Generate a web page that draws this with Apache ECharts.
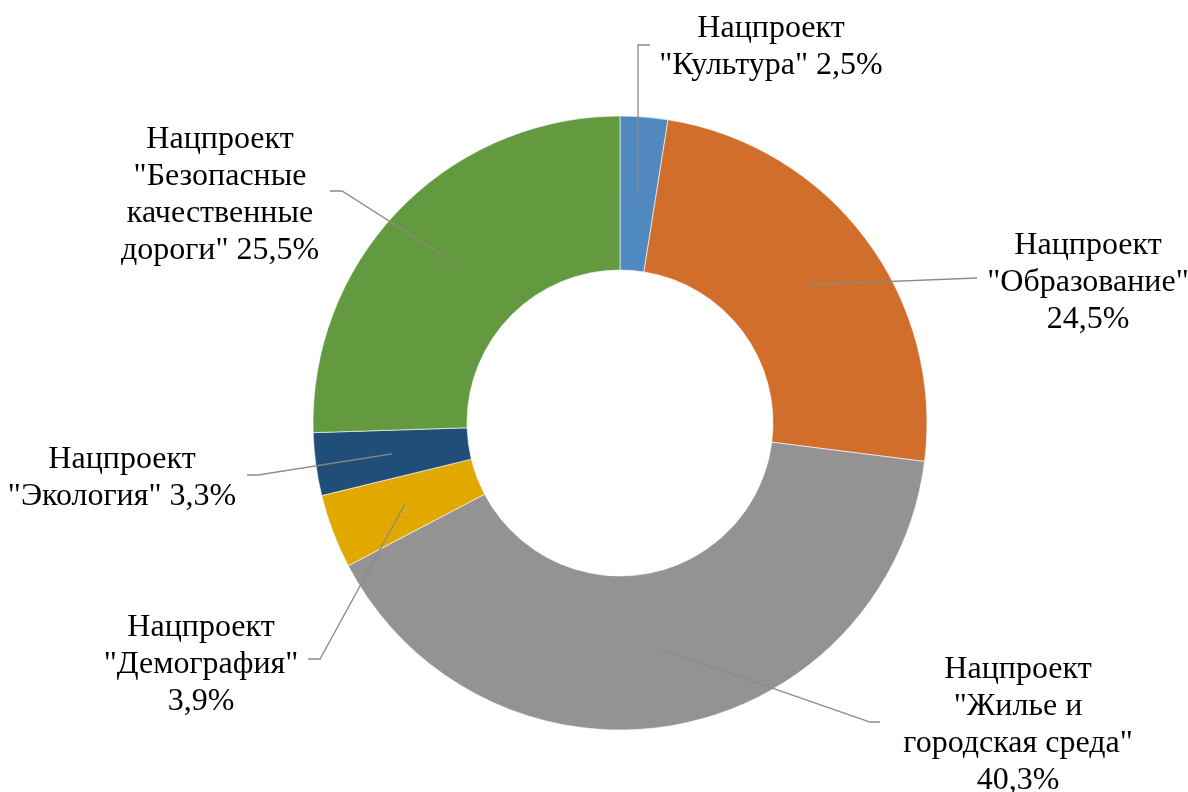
<!DOCTYPE html>
<html>
<head>
<meta charset="utf-8">
<script src="https://cdn.jsdelivr.net/npm/echarts@6/dist/echarts.min.js"></script>
<style>
  html, body { margin: 0; padding: 0; background: #fff; }
  #chart { width: 1188px; height: 792px; }
</style>
</head>
<body>
<div id="chart"></div>
<script>
// national projects, clockwise from 12 o'clock
var names = [
  'Нацпроект\n"Культура"',
  'Нацпроект\n"Образование"',
  'Нацпроект\n"Жилье и\nгородская среда"',
  'Нацпроект\n"Демография"',
  'Нацпроект\n"Экология"',
  'Нацпроект\n"Безопасные\nкачественные\nдороги"'
]
var shares = [2.5, 24.5, 40.3, 3.9, 3.3, 25.5]
// whether the percentage goes on its own line
var valueOnNewLine = [false, true, true, true, false, false]

var colors = ['#4f89bf', '#d26e2c', '#939393', '#e1a900', '#214e78', '#639a3f']

// label block centres and leader-line elbows (layout only)
var labelPos = [[771, 47], [1088, 283], [1018, 725], [201, 665], [122, 478], [220, 195]]
var elbows = [
  [[638, 45], [650, 45]],
  [[977, 278]],
  [[870, 722], [880, 722]],
  [[320, 659], [308, 659]],
  [[258, 475], [247, 475]],
  [[342, 191], [330, 191]]
]

var cx = 620, cy = 423, rIn = 153, rOut = 307, rMid = 230

var pieData = names.map(function(n, i) { return { name: n, value: shares[i] } })

var chart = echarts.init(document.getElementById('chart'))
chart.setOption({
  animation: false,
  color: colors,
  series: [{
    // the ring itself
    type: 'pie',
    z: 2,
    center: [cx, cy],
    radius: [rIn, rOut],
    startAngle: 90,
    clockwise: true,
    silent: true,
    itemStyle: { borderColor: '#fff', borderWidth: 0.6 },
    label: { show: false },
    labelLine: { show: false },
    data: pieData
  }, {
    // transparent copy on top, so leader lines are drawn over the ring
    type: 'pie',
    z: 5,
    center: [cx, cy],
    radius: [rIn, rOut],
    startAngle: 90,
    clockwise: true,
    silent: true,
    itemStyle: { color: 'rgba(0,0,0,0)' },
    label: {
      show: true,
      fontFamily: 'Liberation Serif',
      fontSize: 32,
      lineHeight: 37,
      color: '#000',
      align: 'center',
      formatter: function(p) {
        var v = String(p.value).replace('.', ',') + '%'
        return p.name + (valueOnNewLine[p.dataIndex] ? '\n' : ' ') + v
      }
    },
    labelLine: {
      show: true,
      lineStyle: { color: '#8a8a8a', width: 1.3 }
    },
    labelLayout: function(params) {
      var i = params.dataIndex
      var p0 = params.labelLinePoints[0]
      var k = rMid / rOut
      var start = [cx + (p0[0] - cx) * k, cy + (p0[1] - cy) * k]
      return {
        x: labelPos[i][0],
        y: labelPos[i][1],
        align: 'center',
        verticalAlign: 'middle',
        labelLinePoints: [start].concat(elbows[i])
      }
    },
    data: pieData
  }]
})
</script>
</body>
</html>
